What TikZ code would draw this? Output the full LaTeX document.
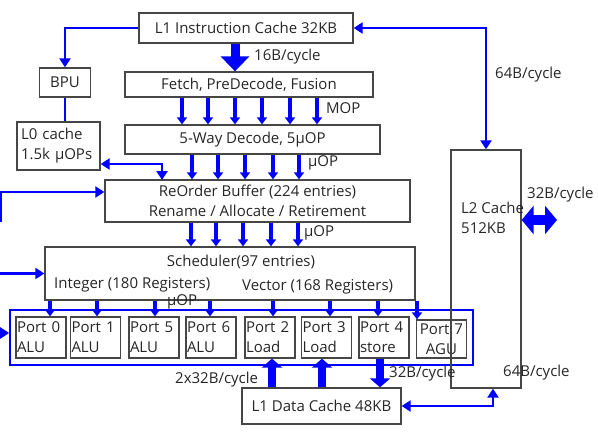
\documentclass[tikz,border=0pt]{standalone}
\usepackage{fontspec}
\setmainfont{Open Sans}
\usetikzlibrary{arrows.meta}

\definecolor{busblue}{RGB}{0,0,255}
\definecolor{boxgray}{RGB}{70,70,70}

\tikzset{
  blk/.style={draw=boxgray, line width=1.3pt, inner sep=0pt, align=center,
    text=black!85, font=\fontsize{15}{20}\selectfont},
  portblk/.style={blk, minimum width=50pt, minimum height=41pt,
    text width=48pt, align=left},
  lbl/.style={inner sep=0pt, anchor=west, text=black!85,
    font=\fontsize{15}{20}\selectfont},
  link/.style={draw=busblue, line width=2.2pt,
    -{Triangle[width=11pt,length=9pt]}},
  bilink/.style={link, {Triangle[width=11pt,length=9pt]}-{Triangle[width=11pt,length=9pt]}},
  pipe/.style={draw=busblue, line width=3.5pt,
    -{Triangle[width=10pt,length=7pt]}},
  fat/.style={draw=busblue, line width=9pt,
    -{Triangle[width=28pt,length=15pt]}},
  wide/.style={draw=busblue, line width=8pt,
    -{Triangle[width=20pt,length=9pt]}},
  fatbi/.style={draw=busblue, line width=10pt,
    {Triangle[width=28pt,length=12pt]}-{Triangle[width=28pt,length=12pt]}},
}

\begin{document}
\begin{tikzpicture}[x=1pt,y=-1pt]
\useasboundingbox (0,0) rectangle (598,437);

% front end
\node[blk, minimum width=214pt, minimum height=30pt] (l1i) at (246,28) {L1 Instruction Cache 32KB};
\node[blk, minimum width=248pt, minimum height=25pt] (fetch) at (249,84.5) {Fetch, PreDecode, Fusion};
\node[blk, minimum width=255pt, minimum height=29pt] (decode) at (252.5,139.5) {5-Way Decode, 5\textmu OP};
\node[blk, minimum width=51pt, minimum height=29pt] (bpu) at (65,82.5) {BPU};
\node[blk, minimum width=83pt, minimum height=48pt, text width=75pt, align=left] (l0) at (58.5,146) {L0 cache\\1.5k \textmu OPs};

% back end
\node[blk, minimum width=305pt, minimum height=42pt] (rob) at (257.5,201) {ReOrder Buffer (224 entries)\\Rename / Allocate / Retirement};
\node[blk, minimum width=370pt, minimum height=53pt] (sched) at (230,273.5) {};
\node[lbl, anchor=center] (schedtxt) at (241,262) {Scheduler(97 entries)};
\node[lbl] (inttxt) at (54,285) {Integer (180 Registers)};
\node[lbl] (vectxt) at (242,287) {Vector (168 Registers)};

% execution ports
\node[draw=busblue, line width=1.6pt, minimum width=463pt, minimum height=55pt, inner sep=0pt] (pg) at (241.5,337.5) {};
\node[portblk] (p0) at (41,337.5) {Port 0\\ALU};
\node[portblk] (p1) at (95.5,337.5) {Port 1\\ALU};
\node[portblk] (p5) at (154,337.5) {Port 5\\ALU};
\node[portblk] (p6) at (211,337.5) {Port 6\\ALU};
\node[portblk] (p2) at (270,337.5) {Port 2\\Load};
\node[portblk] (p3) at (326.5,337.5) {Port 3\\Load};
\node[portblk] (p4) at (384,337.5) {Port 4\\store};
\node[portblk, align=center, minimum height=38pt] (p7) at (441.5,339) {Port 7\\AGU};

% caches
\node[blk, minimum width=159pt, minimum height=36pt] (l1d) at (321.5,406) {L1 Data Cache 48KB};
\node[blk, minimum width=70pt, minimum height=238pt] (l2) at (486,269) {};
\node[lbl, align=left] (l2txt) at (461,218) {L2 Cache\\512KB};

% free ends
\coordinate (e1) at (1,222);
\coordinate (e2) at (0,273.5);
\coordinate (e3) at (0,333);
\coordinate (l2out) at (557,220);

% connectors
\draw[link] (l1i.west) -| (bpu.north);
\draw[link, -] (bpu.south) -- (bpu.south |- l0.north);
\draw[bilink] ([yshift=-18pt]l0.east) -| (162,180);
\draw[link] (e1) |- ([yshift=9pt]rob.west);
\draw[link] (e2) -- (sched.west);
\draw[link] (e3) -- (e3 -| pg.west);
\draw[bilink] (l1i.east) -| (l2.north);
\draw[bilink] (l1d.east) -| ([xshift=7pt]l2.south);
\draw[fatbi] ([yshift=49pt]l2.east) -- (l2out);

\draw[fat] ([xshift=-11pt]l1i.south) -- ([xshift=-14pt]fetch.north);
\foreach \x in {182,208,235,262,290,317}
  \draw[pipe] (fetch.south -| \x,0) -- (decode.north -| \x,0);
\foreach \x in {192,218,245,273,299}
  \draw[pipe] (decode.south -| \x,0) -- (rob.north -| \x,0);
\foreach \x in {191,216,243,271,298}
  \draw[pipe] (rob.south -| \x,0) -- (sched.north -| \x,0);
\foreach \x/\p in {50/p0,97/p1,155/p5,210/p6,273/p2,330/p3,378/p4,417/p7}
  \draw[pipe] (sched.south -| \x,0) -- (\p.north -| \x,0);

\draw[wide] (l1d.north -| 272,0) -- (p2.south -| 272,0);
\draw[wide] (l1d.north -| 322,0) -- (p3.south -| 322,0);
\draw[wide] (p4.south -| 380,0) -- (l1d.north -| 380,0);

% bandwidth labels
\node[lbl] (bw1) at (254,57) {16B/cycle};
\node[lbl] (bw2) at (326,108) {MOP};
\node[lbl] (bw3) at (308,163) {\textmu OP};
\node[lbl] (bw4) at (304,233) {\textmu OP};
\node[lbl] (bw5) at (167,302) {\textmu OP};
\node[lbl] (bw6) at (495,75) {64B/cycle};
\node[lbl] (bw7) at (527,195) {32B/cycle};
\node[lbl] (bw8) at (503,373) {64B/cycle};
\node[lbl] (bw9) at (175,380) {2x32B/cycle};
\node[lbl] (bw10) at (389,374) {32B/cycle};
\end{tikzpicture}
\end{document}
